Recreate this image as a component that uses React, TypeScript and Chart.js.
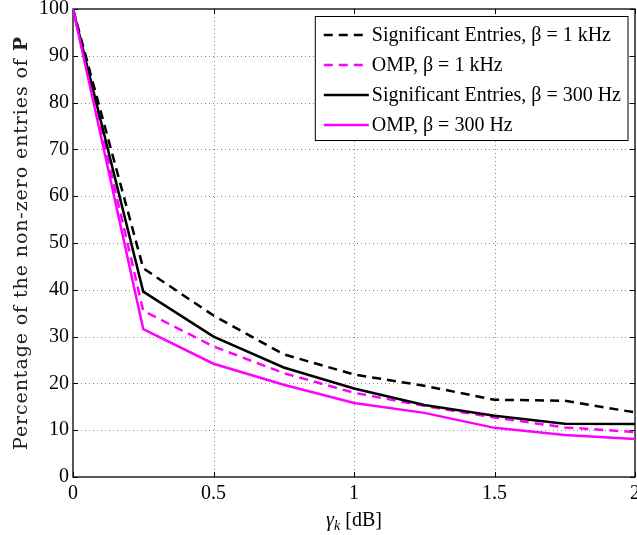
import React, { useEffect, useRef } from "react";
import { Chart, registerables } from "chart.js";

Chart.register(...registerables);

// SNR threshold values gamma_k in dB
const GAMMA_DB = [0, 0.25, 0.5, 0.75, 1, 1.25, 1.5, 1.75, 2];

// Percentage of non-zero entries of P for each method / bandwidth
const SIG_1KHZ = [100, 44.6, 34.5, 26.2, 21.9, 19.5, 16.5, 16.3, 13.8];
const OMP_1KHZ = [100, 35.5, 27.9, 22.2, 18.0, 15.2, 12.7, 10.6, 9.6];
const SIG_300HZ = [100, 39.6, 30.0, 23.4, 18.9, 15.4, 13.1, 11.4, 11.3];
const OMP_300HZ = [100, 31.6, 24.2, 19.7, 15.8, 13.7, 10.5, 9.0, 8.1];

const SERIES_LABELS = [
  "Significant Entries, β = 1 kHz",
  "OMP, β = 1 kHz",
  "Significant Entries, β = 300 Hz",
  "OMP, β = 300 Hz",
];

const X_TICKS = [0, 0.5, 1, 1.5, 2];
const Y_TICKS = [0, 10, 20, 30, 40, 50, 60, 70, 80, 90, 100];

const SERIF = "'Liberation Serif', 'Times New Roman', serif";
const LABEL_SERIF = "'DejaVu Serif', serif";
const MAGENTA = "#ff00ff";
const DASH = [9, 6];

const toPoints = (ys: number[]) => GAMMA_DB.map((x, i) => ({ x, y: ys[i] }));

// Dotted grid, framed box and inward tick marks (MATLAB style)
const frameGrid = {
  id: "frameGrid",
  beforeDatasetsDraw(chart: any) {
    const { ctx, chartArea: a, scales } = chart;
    const xs = scales.x;
    const ys = scales.y;
    ctx.save();
    ctx.lineWidth = 1;
    ctx.strokeStyle = "#888";
    ctx.setLineDash([1, 3]);
    X_TICKS.forEach((v) => {
      const px = Math.round(xs.getPixelForValue(v)) + 0.5;
      if (v === X_TICKS[0] || v === X_TICKS[X_TICKS.length - 1]) return;
      ctx.beginPath();
      ctx.moveTo(px, a.top);
      ctx.lineTo(px, a.bottom);
      ctx.stroke();
    });
    Y_TICKS.forEach((v) => {
      const py = Math.round(ys.getPixelForValue(v)) + 0.5;
      if (v === Y_TICKS[0] || v === Y_TICKS[Y_TICKS.length - 1]) return;
      ctx.beginPath();
      ctx.moveTo(a.left, py);
      ctx.lineTo(a.right, py);
      ctx.stroke();
    });
    ctx.setLineDash([]);
    ctx.strokeStyle = "#000";
    ctx.lineWidth = 1;
    const tl = 5;
    X_TICKS.forEach((v) => {
      const px = Math.round(xs.getPixelForValue(v)) + 0.5;
      ctx.beginPath();
      ctx.moveTo(px, a.bottom);
      ctx.lineTo(px, a.bottom - tl);
      ctx.moveTo(px, a.top);
      ctx.lineTo(px, a.top + tl);
      ctx.stroke();
    });
    Y_TICKS.forEach((v) => {
      const py = Math.round(ys.getPixelForValue(v)) + 0.5;
      ctx.beginPath();
      ctx.moveTo(a.left, py);
      ctx.lineTo(a.left + tl, py);
      ctx.moveTo(a.right, py);
      ctx.lineTo(a.right - tl, py);
      ctx.stroke();
    });
    ctx.lineWidth = 1.3;
    ctx.strokeRect(a.left, a.top, a.right - a.left, a.bottom - a.top);
    ctx.restore();
  },
};

// Legend box in the upper right corner and the two axis titles
const annotations = {
  id: "annotations",
  afterDraw(chart: any) {
    const { ctx, chartArea: a } = chart;
    ctx.save();

    // legend
    ctx.font = `20px ${SERIF}`;
    const widths = SERIES_LABELS.map((t) => ctx.measureText(t).width);
    const maxW = Math.max(...widths);
    const padL = 8.5;
    const sample = 45;
    const gap = 3;
    const boxW = padL + sample + gap + maxW + 7;
    const rowH = 30;
    const boxH = 18.5 + rowH * 3 + 15.5;
    const right = a.right - 7;
    const left = right - boxW;
    const top = a.top + 7.5;
    ctx.fillStyle = "#fff";
    ctx.fillRect(left, top, boxW, boxH);
    ctx.strokeStyle = "#000";
    ctx.lineWidth = 1;
    ctx.strokeRect(left, top, boxW, boxH);
    chart.data.datasets.forEach((ds: any, i: number) => {
      const y = top + 18.5 + i * rowH;
      ctx.beginPath();
      ctx.setLineDash(ds.borderDash || []);
      ctx.strokeStyle = ds.borderColor;
      ctx.lineWidth = ds.borderWidth;
      ctx.moveTo(left + padL, y);
      ctx.lineTo(left + padL + sample, y);
      ctx.stroke();
      ctx.setLineDash([]);
      ctx.fillStyle = "#000";
      ctx.textAlign = "left";
      ctx.textBaseline = "middle";
      ctx.fillText(ds.label, left + padL + sample + gap, y + 1);
    });

    // x-axis title: gamma_k [dB]
    const cx = (a.left + a.right) / 2;
    const ty = 520;
    ctx.textBaseline = "alphabetic";
    ctx.fillStyle = "#000";
    const gFont = `italic 20px ${SERIF}`;
    const kFont = `italic 14px ${SERIF}`;
    const rFont = `20px ${SERIF}`;
    ctx.font = gFont;
    const gW = ctx.measureText("γ").width;
    ctx.font = kFont;
    const kW = ctx.measureText("k").width;
    ctx.font = rFont;
    const rest = " [dB]";
    const rW = ctx.measureText(rest).width;
    let x0 = cx - (gW + kW + rW) / 2;
    const base = ty + 6;
    ctx.textAlign = "left";
    ctx.font = gFont;
    ctx.fillText("γ", x0, base);
    x0 += gW;
    ctx.font = kFont;
    ctx.fillText("k", x0, base + 4);
    x0 += kW;
    ctx.font = rFont;
    ctx.fillText(rest, x0, base);

    // y-axis title with bold P
    const main = "Percentage of the non-zero entries of ";
    const nFont = `19px ${LABEL_SERIF}`;
    const bFont = `bold 19px ${LABEL_SERIF}`;
    (ctx as any).letterSpacing = "0.9px";
    ctx.font = nFont;
    const mW = ctx.measureText(main).width;
    ctx.font = bFont;
    const pW = ctx.measureText("P").width;
    const cy = (a.top + a.bottom) / 2;
    ctx.translate(27, cy);
    ctx.rotate(-Math.PI / 2);
    let sx = -(mW + pW) / 2;
    ctx.fillStyle = "#222";
    ctx.font = nFont;
    ctx.fillText(main, sx, 0);
    sx += mW;
    ctx.font = bFont;
    ctx.fillText("P", sx, 0);
    (ctx as any).letterSpacing = "0px";

    ctx.restore();
  },
};

export default function App() {
  const canvasRef = useRef<HTMLCanvasElement | null>(null);

  useEffect(() => {
    document.body.style.margin = "0";
    const canvas = canvasRef.current;
    if (!canvas) return;
    const chart = new Chart(canvas, {
      type: "line",
      data: {
        datasets: [
          {
            label: SERIES_LABELS[0],
            data: toPoints(SIG_1KHZ),
            borderColor: "#000",
            borderDash: DASH,
            borderWidth: 2.5,
            order: 4,
          },
          {
            label: SERIES_LABELS[1],
            data: toPoints(OMP_1KHZ),
            borderColor: MAGENTA,
            borderDash: DASH,
            borderWidth: 2.5,
            order: 3,
          },
          {
            label: SERIES_LABELS[2],
            data: toPoints(SIG_300HZ),
            borderColor: "#000",
            borderWidth: 2.5,
            order: 2,
          },
          {
            label: SERIES_LABELS[3],
            data: toPoints(OMP_300HZ),
            borderColor: MAGENTA,
            borderWidth: 2.5,
            order: 1,
          },
        ] as any,
      },
      options: {
        animation: false,
        responsive: false,
        devicePixelRatio: 1,
        elements: {
          point: { radius: 0, hoverRadius: 0 },
          line: { tension: 0, fill: false, borderCapStyle: "butt", borderJoinStyle: "miter" },
        },
        layout: { padding: { top: 9, right: 2, left: 0, bottom: 0 } },
        plugins: {
          legend: { display: false },
          tooltip: { enabled: false },
        },
        scales: {
          x: {
            type: "linear",
            min: 0,
            max: 2,
            afterBuildTicks: (s: any) => {
              s.ticks = X_TICKS.map((v) => ({ value: v }));
            },
            ticks: {
              color: "#000",
              font: { family: SERIF, size: 20 },
              padding: 5,
              maxRotation: 0,
              autoSkip: false,
              callback: (v: any) => String(v),
            },
            grid: { display: false, drawTicks: false },
            border: { display: false },
            afterFit: (s: any) => {
              s.height = 58;
              s.paddingLeft = 0;
              s.paddingRight = 0;
            },
          },
          y: {
            type: "linear",
            min: 0,
            max: 100,
            afterBuildTicks: (s: any) => {
              s.ticks = Y_TICKS.map((v) => ({ value: v }));
            },
            ticks: {
              color: "#000",
              font: { family: SERIF, size: 20 },
              padding: 4,
              autoSkip: false,
              callback: (v: any) => String(v),
            },
            grid: { display: false, drawTicks: false },
            border: { display: false },
            afterFit: (s: any) => {
              s.width = 73;
              s.paddingTop = 0;
              s.paddingBottom = 0;
            },
          },
        },
      } as any,
      plugins: [frameGrid, annotations],
    });
    return () => chart.destroy();
  }, []);

  return (
    <div style={{ position: "absolute", left: 0, top: 0, width: 637, height: 535, background: "#fff" }}>
      <canvas ref={canvasRef} width={637} height={535} />
    </div>
  );
}
